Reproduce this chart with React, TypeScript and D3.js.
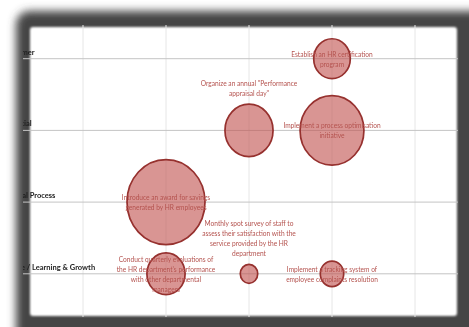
import React from 'react';
import * as d3 from 'd3';

const categories = ['People / Learning & Growth', 'Internal Process', 'Financial', 'Customer'];
const categoryValues = [1, 2, 3, 4];
const xTicks = [1, 2, 3, 4, 5];

const xValues = [4, 3, 4, 2, 2, 3, 4];
const yValues = [4, 3, 3, 2, 1, 1, 1];
const sizes = [22, 38, 67, 100, 24, 5, 9];
const labelLines = [
  ['Establish an HR certification', 'program'],
  ['Organize an annual "Performance', 'appraisal day"'],
  ['Implement a process optimisation', 'initiative'],
  ['Introduce an award for savings', 'generated by HR employees'],
  ['Conduct quarterly evaluations of', "the HR department's performance", 'with other departmental', 'managers'],
  ['Monthly spot survey of staff to', 'assess their satisfaction with the', 'service provided by the HR', 'department'],
  ['Implement a tracking system of', 'employee complaints resolution'],
];
const labelPlacement = ['center', 'above', 'center', 'center', 'center', 'above', 'center'];

const W = 469;
const H = 327;

export default function App() {
  const x = d3.scaleLinear().domain([0, 6]).range([0, 498]);
  const y = d3.scaleLinear().domain([0, 5]).range([345.5, -13]);
  const r = d3.scaleSqrt().domain([0, 100]).range([0, 39]);
  const stretch = 1.09;
  const lh = 10;

  const clip = { x: 23, y: 25, w: 435, h: 292 };

  return (
    <svg
      width={W}
      height={H}
      style={{ position: 'fixed', left: 0, top: 0, background: '#fff' }}
    >
      <defs>
        <filter id="outerBlur" x="-20%" y="-20%" width="140%" height="140%">
          <feGaussianBlur stdDeviation="4" />
        </filter>
        <filter id="innerBlur" x="-10%" y="-10%" width="120%" height="120%">
          <feGaussianBlur stdDeviation="1.3" />
        </filter>
        <filter id="soft" x="-5%" y="-5%" width="110%" height="110%">
          <feGaussianBlur stdDeviation="0.55" />
        </filter>
        <clipPath id="plotClip">
          <rect x={clip.x} y={clip.y} width={clip.w} height={clip.h} />
        </clipPath>
      </defs>
      <rect x={0} y={0} width={W} height={H} fill="#fff" />
      <rect x={16} y={11} width={480} height={340} rx={14} fill="#454545" filter="url(#outerBlur)" />
      <rect x={30} y={27} width={427} height={289} rx={3} fill="#fff" filter="url(#innerBlur)" />
      <g clipPath="url(#plotClip)">
        <g filter="url(#soft)">
          {xTicks.map((t) => (
            <line key={'v' + t} x1={x(t)} x2={x(t)} y1={0} y2={H} stroke="#e6e6e6" strokeWidth={1} />
          ))}
          {categoryValues.map((c) => (
            <line key={'h' + c} x1={0} x2={W} y1={y(c)} y2={y(c)} stroke="#c4c4c4" strokeWidth={1} />
          ))}
          {categories.map((name, i) => (
            <text
              key={name}
              x={2}
              y={y(categoryValues[i]) - 4}
              fontFamily="Lato, 'Open Sans', sans-serif"
              fontWeight="bold"
              fontSize={7.5}
              fill="#1e1e1e"
            >
              {name}
            </text>
          ))}
          {sizes.map((s, i) => (
            <ellipse
              key={'b' + i}
              cx={x(xValues[i])}
              cy={y(yValues[i])}
              rx={r(s)}
              ry={r(s) * stretch}
              fill="rgba(192,80,77,0.6)"
              stroke="#96302e"
              strokeWidth={1.7}
            />
          ))}
          {labelLines.map((lines, i) => {
            const cx = x(xValues[i]);
            const cy = y(yValues[i]);
            const n = lines.length;
            const first =
              labelPlacement[i] === 'above'
                ? cy - r(sizes[i]) * stretch - 11 - (n - 1) * lh
                : cy - ((n - 1) / 2) * lh;
            return (
              <text
                key={'l' + i}
                textAnchor="middle"
                fontFamily="Lato, 'Open Sans', sans-serif"
                fontSize={6.6}
                fill="#b4524e"
              >
                {lines.map((ln, j) => (
                  <tspan key={j} x={cx} y={first + j * lh} dominantBaseline="central">
                    {ln}
                  </tspan>
                ))}
              </text>
            );
          })}
        </g>
      </g>
    </svg>
  );
}
